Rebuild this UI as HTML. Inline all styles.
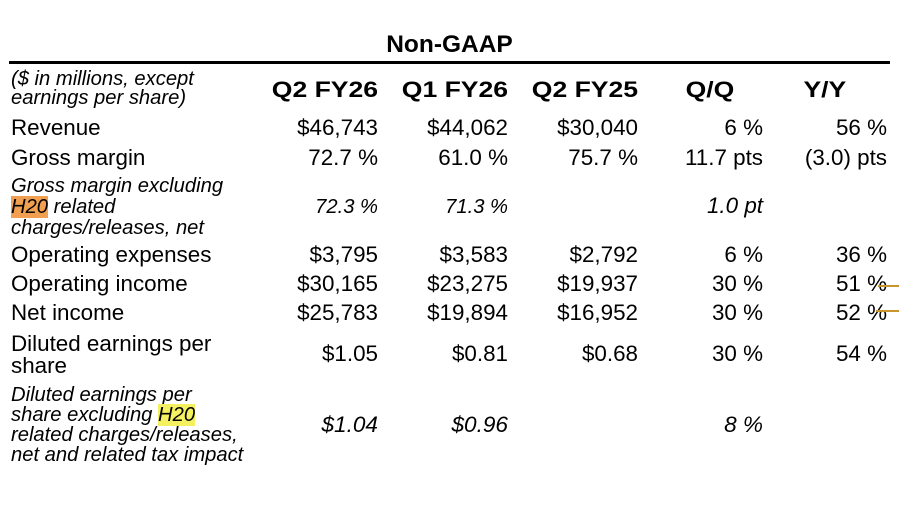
<!DOCTYPE html>
<html><head><style>
body{margin:0;width:899px;height:513px;background:#fff;position:relative;overflow:hidden;font-family:"Liberation Sans",Arial,sans-serif;color:#000}
.t{position:absolute;white-space:nowrap;line-height:24px;font-size:22.4px}
.l{left:11px}
.i{font-style:italic;font-size:20.2px;line-height:20px}
.r{text-align:right}
.b{font-weight:bold;font-size:22.5px;transform:scaleX(1.18);transform-origin:right center}
</style></head><body>
<div class="t" style="left:0;width:899px;text-align:center;top:33px;font-size:24.5px;font-weight:bold">Non-GAAP</div>
<div style="position:absolute;left:9px;top:61px;width:881px;height:3px;background:#000"></div>

<div class="t l i" style="top:69px">($ in millions, except</div>
<div class="t l i" style="top:88px">earnings per share)</div>
<div class="t b r" style="right:521px;top:78px">Q2 FY26</div>
<div class="t b r" style="right:391px;top:78px">Q1 FY26</div>
<div class="t b r" style="right:261px;top:78px">Q2 FY25</div>
<div class="t b r" style="right:165px;top:78px">Q/Q</div>
<div class="t b r" style="right:53px;top:78px">Y/Y</div>

<div class="t l" style="top:116px">Revenue</div>
<div class="t r" style="right:521px;top:116px">$46,743</div>
<div class="t r" style="right:391px;top:116px">$44,062</div>
<div class="t r" style="right:261px;top:116px">$30,040</div>
<div class="t r" style="right:136px;top:116px">6 %</div>
<div class="t r" style="right:12px;top:116px">56 %</div>

<div class="t l" style="top:146px">Gross margin</div>
<div class="t r" style="right:521px;top:146px">72.7 %</div>
<div class="t r" style="right:391px;top:146px">61.0 %</div>
<div class="t r" style="right:261px;top:146px">75.7 %</div>
<div class="t r" style="right:136px;top:146px">11.7 pts</div>
<div class="t r" style="right:12px;top:146px">(3.0) pts</div>

<div class="t l i" style="top:176px">Gross margin excluding</div>
<div class="t l i" style="top:197px"><span style="background:#f0a050">H20</span> related</div>
<div class="t l i" style="top:218px">charges/releases, net</div>
<div class="t i r" style="right:521px;top:197px">72.3 %</div>
<div class="t i r" style="right:391px;top:197px">71.3 %</div>
<div class="t i r" style="right:136px;top:196px;font-size:22.4px">1.0 pt</div>

<div class="t l" style="top:243px">Operating expenses</div>
<div class="t r" style="right:521px;top:243px">$3,795</div>
<div class="t r" style="right:391px;top:243px">$3,583</div>
<div class="t r" style="right:261px;top:243px">$2,792</div>
<div class="t r" style="right:136px;top:243px">6 %</div>
<div class="t r" style="right:12px;top:243px">36 %</div>

<div class="t l" style="top:272px">Operating income</div>
<div class="t r" style="right:521px;top:272px">$30,165</div>
<div class="t r" style="right:391px;top:272px">$23,275</div>
<div class="t r" style="right:261px;top:272px">$19,937</div>
<div class="t r" style="right:136px;top:272px">30 %</div>
<div class="t r" style="right:12px;top:272px">51 %</div>

<div class="t l" style="top:301px">Net income</div>
<div class="t r" style="right:521px;top:301px">$25,783</div>
<div class="t r" style="right:391px;top:301px">$19,894</div>
<div class="t r" style="right:261px;top:301px">$16,952</div>
<div class="t r" style="right:136px;top:301px">30 %</div>
<div class="t r" style="right:12px;top:301px">52 %</div>

<div style="position:absolute;left:878px;top:285px;width:21px;height:2px;background:#c9962e"></div>
<div style="position:absolute;left:876px;top:310px;width:23px;height:2px;background:#c9962e"></div>

<div class="t l" style="top:332px">Diluted earnings per</div>
<div class="t l" style="top:354px">share</div>
<div class="t r" style="right:521px;top:342px">$1.05</div>
<div class="t r" style="right:391px;top:342px">$0.81</div>
<div class="t r" style="right:261px;top:342px">$0.68</div>
<div class="t r" style="right:136px;top:342px">30 %</div>
<div class="t r" style="right:12px;top:342px">54 %</div>

<div class="t l i" style="top:385px">Diluted earnings per</div>
<div class="t l i" style="top:405px">share excluding <span style="background:#f5f060">H20</span></div>
<div class="t l i" style="top:425px">related charges/releases,</div>
<div class="t l i" style="top:445px">net and related tax impact</div>
<div class="t i r" style="right:521px;top:413px;font-size:22.6px;line-height:24px">$1.04</div>
<div class="t i r" style="right:391px;top:413px;font-size:22.6px;line-height:24px">$0.96</div>
<div class="t i r" style="right:136px;top:413px;font-size:22.6px;line-height:24px">8 %</div>
</body></html>
